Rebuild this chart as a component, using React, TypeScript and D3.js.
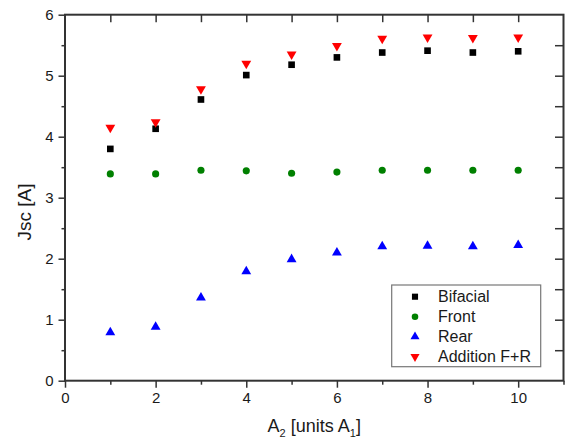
import React, { useRef, useEffect } from 'react';
import * as d3 from 'd3';

// A2 positions (units of A1)
const xValues = [1, 2, 3, 4, 5, 6, 7, 8, 9, 10];
const bifacial = [3.8, 4.13, 4.61, 5.01, 5.18, 5.3, 5.38, 5.41, 5.38, 5.4];
const front = [3.39, 3.39, 3.45, 3.44, 3.4, 3.42, 3.45, 3.45, 3.45, 3.45];
const rear = [0.79, 0.88, 1.36, 1.79, 1.99, 2.1, 2.2, 2.21, 2.2, 2.22];
const addition = [4.15, 4.24, 4.78, 5.2, 5.35, 5.49, 5.61, 5.63, 5.62, 5.63];
const xTicks = [0, 2, 4, 6, 8, 10];
const yTicks = [0, 1, 2, 3, 4, 5, 6];

const seriesNames = ['Bifacial', 'Front', 'Rear', 'Addition F+R'];
const seriesData = [bifacial, front, rear, addition];

const FONT = '"Liberation Sans", Arial, sans-serif';

const App = () => {
    const svgRef = useRef(null);

    useEffect(() => {
        document.body.style.margin = '0';
        const svg = d3.select(svgRef.current);
        svg.selectAll('*').remove();

        const width = 566;
        const height = 441;
        const margin = { top: 14.7, right: 2.5, bottom: 60.3, left: 65 };
        const axisColor = '#333';
        const textColor = '#1a1a1a';

        const x = d3.scaleLinear().domain([0, 11]).range([margin.left, width - margin.right]);
        const y = d3.scaleLinear().domain([0, 6]).range([height - margin.bottom, margin.top]);

        const x0 = margin.left, x1 = width - margin.right;
        const y0 = height - margin.bottom, y1 = margin.top;

        const minorX = d3.range(0, 12, 1);
        const minorY = d3.range(0, 6.01, 0.5);

        // bottom axis
        const gB = svg.append('g').attr('transform', `translate(0,${y0})`);
        gB.call(d3.axisBottom(x).tickValues(minorX.filter(v => v % 2 === 1)).tickSize(4).tickFormat(() => ''));
        gB.call(g => g.select('.domain').remove());
        const gB2 = svg.append('g').attr('transform', `translate(0,${y0})`);
        gB2.call(d3.axisBottom(x).tickValues(xTicks).tickSize(7).tickPadding(5).tickFormat(d3.format('d')));
        gB2.select('.domain').remove();

        // left axis
        const gL = svg.append('g').attr('transform', `translate(${x0},0)`);
        gL.call(d3.axisLeft(y).tickValues(minorY.filter(v => v % 1 !== 0)).tickSize(3.5).tickFormat(() => ''));
        gL.select('.domain').remove();
        const gL2 = svg.append('g').attr('transform', `translate(${x0},0)`);
        gL2.call(d3.axisLeft(y).tickValues(yTicks).tickSize(6.5).tickPadding(5).tickFormat(d3.format('d')));
        gL2.select('.domain').remove();

        // top axis (inward ticks)
        const gT = svg.append('g').attr('transform', `translate(0,${y1})`);
        gT.call(d3.axisBottom(x).tickValues(minorX.filter(v => v > 0 && v < 11)).tickSize(7.5).tickFormat(() => ''));
        gT.select('.domain').remove();

        // right axis (inward ticks)
        const gR = svg.append('g').attr('transform', `translate(${x1},0)`);
        gR.call(d3.axisLeft(y).tickValues(minorY.filter(v => v > 0 && v < 6)).tickSize(8.5).tickFormat(() => ''));
        gR.select('.domain').remove();

        svg.selectAll('.tick line').attr('stroke', axisColor).attr('stroke-width', 1.5);
        svg.selectAll('.tick text')
            .attr('fill', textColor)
            .style('font-family', FONT)
            .style('font-size', '15px');

        // frame
        svg.append('rect')
            .attr('x', x0).attr('y', y1)
            .attr('width', x1 - x0).attr('height', y0 - y1)
            .attr('fill', 'none')
            .attr('stroke', axisColor)
            .attr('stroke-width', 2);

        const symbols = [
            { type: d3.symbolSquare, size: 44, color: '#000000', rot: 0 },
            { type: d3.symbolCircle, size: 40, color: '#008000', rot: 0 },
            { type: d3.symbolTriangle, size: 42, color: '#0000ff', rot: 0 },
            { type: d3.symbolTriangle, size: 42, color: '#ff0000', rot: 180 },
        ];

        seriesData.forEach((vals, i) => {
            const s = symbols[i];
            const path = d3.symbol().type(s.type).size(s.size)();
            svg.append('g')
                .selectAll('path')
                .data(vals)
                .join('path')
                .attr('d', path)
                .attr('fill', s.color)
                .attr('transform', (d, j) => `translate(${x(xValues[j])},${y(d)}) rotate(${s.rot})`);
        });

        // legend
        const lg = svg.append('g');
        lg.append('rect')
            .attr('x', 391.7).attr('y', 285)
            .attr('width', 149).attr('height', 81.7)
            .attr('fill', 'white')
            .attr('stroke', '#777')
            .attr('stroke-width', 1.2);
        seriesNames.forEach((name, i) => {
            const s = symbols[i];
            const cy = 296.7 + i * 20;
            lg.append('path')
                .attr('d', d3.symbol().type(s.type).size(s.size * 0.85)())
                .attr('fill', s.color)
                .attr('transform', `translate(415,${cy}) rotate(${s.rot})`);
            lg.append('text')
                .attr('x', 438).attr('y', cy)
                .attr('dy', '0.36em')
                .attr('fill', textColor)
                .style('font-family', FONT)
                .style('font-size', '16px')
                .text(name);
        });

        // axis titles
        const xt = svg.append('text')
            .attr('x', (x0 + x1) / 2).attr('y', 432)
            .attr('text-anchor', 'middle')
            .attr('fill', textColor)
            .style('font-family', FONT)
            .style('font-size', '18px');
        xt.append('tspan').text('A');
        xt.append('tspan').attr('dy', 5).style('font-size', '11px').text('2');
        xt.append('tspan').attr('dy', -5).text(' [units A');
        xt.append('tspan').attr('dy', 5).style('font-size', '11px').text('1');
        xt.append('tspan').attr('dy', -5).text(']');

        svg.append('text')
            .attr('transform', `translate(31,212) rotate(-90)`)
            .attr('text-anchor', 'middle')
            .attr('fill', textColor)
            .style('font-family', FONT)
            .style('font-size', '19px')
            .text('Jsc [A]');
    }, []);

    return (
        <div style={{ position: 'absolute', left: 0, top: 0, background: 'white' }}>
            <svg ref={svgRef} width={566} height={441} style={{ display: 'block' }}></svg>
        </div>
    );
};

export default App;
